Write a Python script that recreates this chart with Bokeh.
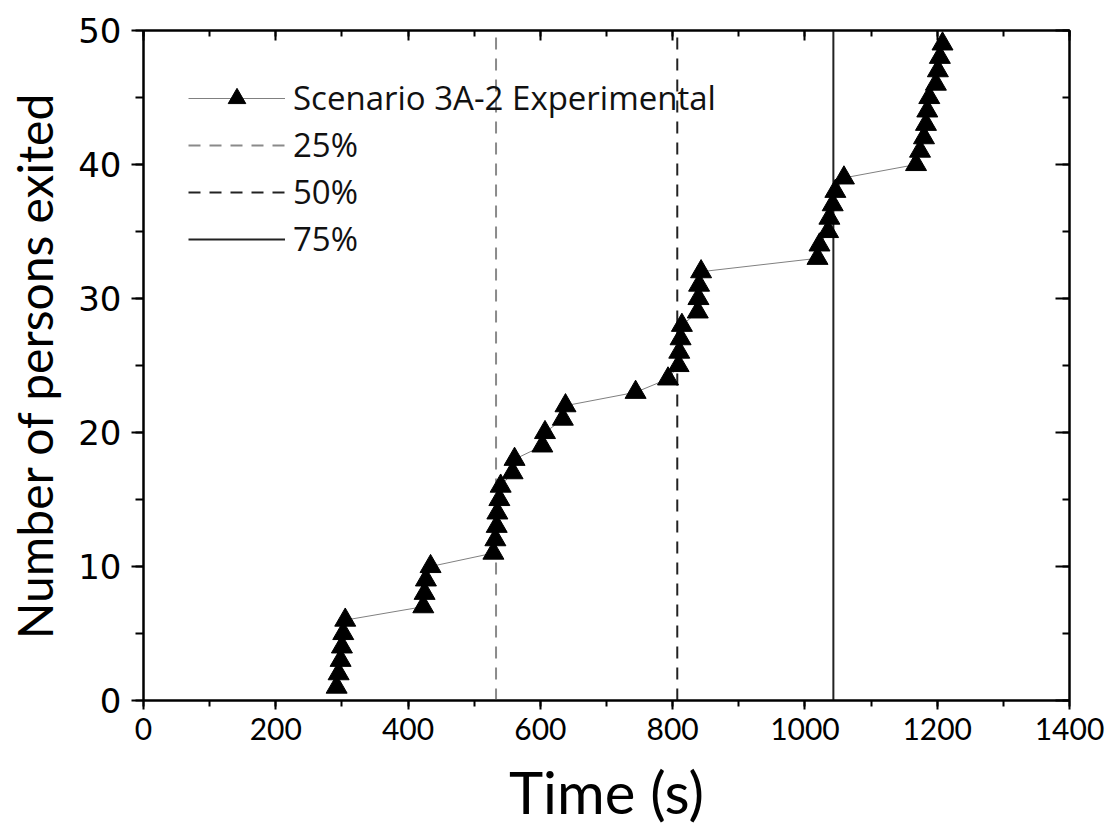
from bokeh.plotting import figure
from bokeh.embed import file_html
from bokeh.resources import INLINE
from bokeh.models import LinearAxis, SingleIntervalTicker, CustomJSTickFormatter, Range1d

# Data: time (s) at which each person exited
times = [292, 295, 298, 300, 302, 305,
         423, 425, 427, 434,
         529, 532, 534, 535, 538, 540,
         558, 561, 603, 607, 634, 638,
         744, 793,
         809, 810, 812, 814,
         838, 839, 840, 843,
         1019, 1022, 1035, 1037, 1042, 1046, 1059,
         1168, 1174, 1180, 1183, 1185, 1188, 1198, 1201, 1204, 1208]
persons = list(range(1, 50))

pct_labels = ["25%", "50%", "75%"]
pct_times = [533, 807, 1043]
series_label = "Scenario 3A-2 Experimental"

p = figure(width=1109, height=830, x_range=Range1d(0, 1400), y_range=Range1d(0, 50),
           output_backend="svg", toolbar_location=None,
           min_border_left=143, min_border_right=40, min_border_top=30, min_border_bottom=130)

p.xgrid.visible = False
p.ygrid.visible = False
p.outline_line_color = "black"
p.outline_line_width = 2
p.background_fill_color = "white"
p.border_fill_color = "white"

# Percentile vertical lines
styles = [dict(line_color="#8a8a8a", line_width=2, line_dash="12 9"),
          dict(line_color="#222222", line_width=2, line_dash="12 9"),
          dict(line_color="#222222", line_width=2, line_dash="solid")]
for lab, t, st in zip(pct_labels, pct_times, styles):
    p.segment(x0=[t], y0=[0], x1=[t], y1=[50], legend_label=lab, **st)

# Series
p.line(times, persons, line_color="#808080", line_width=1, legend_label=series_label)
p.scatter(times, persons, marker="triangle", size=21, fill_color="black",
          line_color="black", legend_label=series_label)

# Reorder legend: series first
items = p.legend[0].items
series_item = [it for it in items if it.label.value == series_label][0]
others = [it for it in items if it.label.value != series_label]
p.legend[0].items = [series_item] + others

lg = p.legend[0]
lg.location = "top_left"
lg.margin = 45
lg.padding = 0
lg.spacing = 2
lg.glyph_width = 97
lg.glyph_height = 44
lg.label_height = 44
lg.label_standoff = 8
lg.label_text_font = "Open Sans"
lg.label_text_font_size = "33px"
lg.label_text_color = "#111111"
lg.border_line_color = None
lg.background_fill_alpha = 0

# Bottom axis
xa = p.xaxis[0]
xa.ticker = SingleIntervalTicker(interval=200, num_minor_ticks=2)
xa.axis_label = "Time (s)"
xa.axis_label_text_font = "Lato"
xa.axis_label_text_font_size = "58px"
xa.axis_label_text_font_style = "normal"
xa.axis_label_text_color = "black"
xa.axis_label_standoff = 14
xa.major_label_text_font = "Lato"
xa.major_label_text_font_size = "30px"
xa.major_label_text_color = "black"
xa.major_label_standoff = 8
xa.major_tick_out = 9
xa.major_tick_in = 0
xa.minor_tick_out = 6
xa.minor_tick_in = 0
xa.axis_line_width = 2
xa.major_tick_line_width = 2
xa.minor_tick_line_width = 2

# Left axis
ya = p.yaxis[0]
ya.ticker = SingleIntervalTicker(interval=10, num_minor_ticks=2)
ya.axis_label = "Number of persons exited"
ya.axis_label_text_font = "Lato"
ya.axis_label_text_font_size = "48px"
ya.axis_label_text_font_style = "normal"
ya.axis_label_text_color = "black"
ya.axis_label_standoff = 12
ya.major_label_text_font = "DejaVu Sans"
ya.major_label_text_font_size = "34px"
ya.major_label_text_color = "black"
ya.major_label_standoff = 10
ya.major_tick_out = 12
ya.major_tick_in = 0
ya.minor_tick_out = 8
ya.minor_tick_in = 0
ya.axis_line_width = 2
ya.major_tick_line_width = 2
ya.minor_tick_line_width = 2

blank = CustomJSTickFormatter(code="return ''")
top = LinearAxis(ticker=SingleIntervalTicker(interval=200, num_minor_ticks=2), formatter=blank,
                 major_tick_in=10, major_tick_out=0, minor_tick_in=6, minor_tick_out=0,
                 axis_line_width=2, major_tick_line_width=2, minor_tick_line_width=2,
                 major_label_standoff=0)
right = LinearAxis(ticker=SingleIntervalTicker(interval=10, num_minor_ticks=2), formatter=blank,
                   major_tick_in=14, major_tick_out=0, minor_tick_in=7, minor_tick_out=0,
                   axis_line_width=2, major_tick_line_width=2, minor_tick_line_width=2,
                   major_label_standoff=0)
p.add_layout(top, "above")
p.add_layout(right, "right")

open("out.html", "w").write(file_html(p, INLINE))
